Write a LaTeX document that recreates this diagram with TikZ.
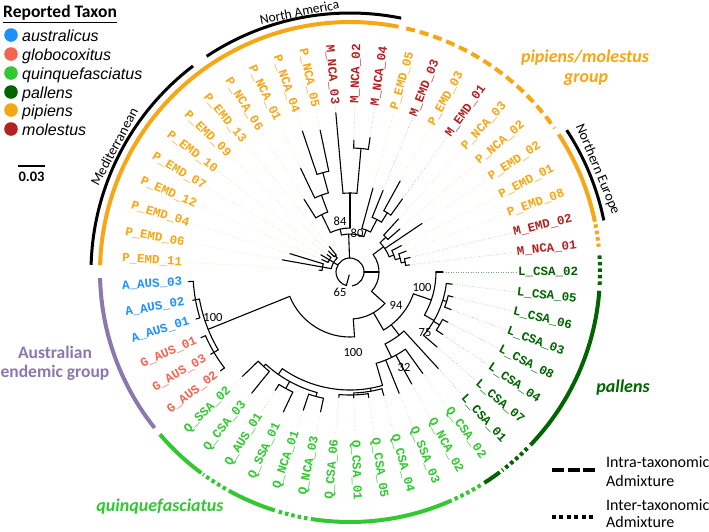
\documentclass[tikz,border=0pt]{standalone}
\usepackage{fontspec}
\setmainfont{Carlito}
\newfontfamily\monob{Liberation Mono}
\newfontfamily\arialf{Liberation Sans}
\definecolor{corange}{RGB}{247,166,20}
\definecolor{cmol}{RGB}{178,34,34}
\definecolor{caus}{RGB}{30,144,255}
\definecolor{cglo}{RGB}{245,100,80}
\definecolor{cqui}{RGB}{50,200,50}
\definecolor{cpal}{RGB}{0,100,0}
\definecolor{cpur}{RGB}{140,120,170}
\tikzset{
 tree/.style={line width=1.1pt, black, line cap=round},
 leader/.style={line width=0.5pt, dotted},
 lab/.style={font=\monob\bfseries\fontsize{12.5}{13}\selectfont, inner sep=0pt},
 ring/.style={line width=4pt},
 ringdash/.style={line width=4pt, dash pattern=on 9pt off 5pt},
 ringdot/.style={line width=4pt, dash pattern=on 3.5pt off 3pt},
 blk/.style={line width=3pt, black},
 supp/.style={font=\fontsize{12.5}{13}\selectfont, inner sep=0pt},
 grp/.style={font=\bfseries\itshape\fontsize{18}{20}\selectfont, inner sep=0pt},
 regl/.style={font=\fontsize{14}{15}\selectfont, inner sep=0pt},
 legt/.style={font=\arialf\itshape\fontsize{16}{18}\selectfont, anchor=base west, inner sep=0pt},
 legr/.style={font=\fontsize{16}{18}\selectfont, anchor=west, inner sep=0pt},
}
\newcommand{\trad}[3]{\draw[tree] (#1:#2) -- (#1:#3);}
\newcommand{\tarc}[3]{\draw[tree] (#2:#1) arc[start angle=#2,end angle=#3,radius=#1];}
\newcommand{\ringarc}[4]{\draw[#1] (#2:#4) arc[start angle=#2,end angle=#3,radius=#4];}
\newcommand{\tip}[5]{%
  \pgfmathsetmacro\ta{(26-#1)*360/53}%
  \draw[tree] (\ta:#2) -- (\ta:#3);%
  \draw[leader,draw=#4!55] (\ta:#3) -- (\ta:166);%
  \ifnum#1<13
    \node[lab,text=#4,anchor=east,rotate=\ta+180] (n#1) at (\ta:168) {#5};%
  \else\ifnum#1>39
    \node[lab,text=#4,anchor=east,rotate=\ta+180] (n#1) at (\ta:168) {#5};%
  \else
    \node[lab,text=#4,anchor=west,rotate=\ta] (n#1) at (\ta:168) {#5};%
  \fi\fi}
\begin{document}
\begin{tikzpicture}[x=1pt,y=1pt]
\useasboundingbox (0,0) rectangle (709,-531);
\fill[white] (0,0) rectangle (709,-531);

% ---------- legend top-left ----------
\node[font=\bfseries\fontsize{17.5}{20}\selectfont, anchor=west, inner sep=0pt] (rt) at (3,-14) {\underline{Reported Taxon}};
\foreach \yy/\cc/\tt [count=\k] in {35/caus/australicus, 54/cglo/globocoxitus, 73/cqui/quinquefasciatus, 92/cpal/pallens, 110/corange/pipiens, 129/cmol/molestus}{
  \fill[\cc] (11,-\yy) circle (6.8);
  \node[legt] (lg\k) at (22,-\yy-6) {\tt};
}
% scale bar
\draw[line width=1.5pt] (18,-166) -- (45,-166);
\node[font=\bfseries\fontsize{14.5}{15}\selectfont, inner sep=0pt] (sc) at (31.5,-177) {0.03};

% ---------- group labels ----------
\node[grp,text=corange] (g1a) at (585,-58) {pipiens/molestus};
\node[grp,text=corange] (g1b) at (586,-80) {group};
\node[font=\bfseries\fontsize{17.5}{20}\selectfont, text=cpur, inner sep=0pt] (g2a) at (55,-352) {Australian};
\node[font=\bfseries\fontsize{17.5}{20}\selectfont, text=cpur, inner sep=0pt] (g2b) at (55,-373) {endemic group};
\node[grp,text=cqui] (g3) at (160,-507) {quinquefasciatus};
\node[grp,text=cpal] (g4) at (623,-388) {pallens};

% ---------- legend bottom-right ----------
\draw[line width=4pt, dash pattern=on 12pt off 3.5pt] (552,-470) -- (595,-470);
\draw[line width=4pt, dash pattern=on 4pt off 3.4pt] (552,-517) -- (595,-517);
\node[legr] (l1) at (606,-462) {Intra-taxonomic};
\node[legr] (l2) at (606,-481) {Admixture};
\node[legr] (l3) at (606,-505) {Inter-taxonomic};
\node[legr] (l4) at (606,-522) {Admixture};

\begin{scope}[shift={(350,-272)}]
% ---------- outer rings ----------
\ringarc{ring,corange}{178.4}{78.8}{250}
\ringarc{ringdash,corange}{77}{35.1}{250}
\ringarc{ring,corange}{33.4}{11.6}{250}
\ringarc{ringdot,corange}{11.0}{5.8}{250}
\ringarc{ringdot,cpal}{3.8}{-3.0}{250}
\ringarc{ring,cpal}{-4.3}{-43.8}{250}
\ringarc{ringdot,cpal}{-44.8}{-52.5}{250}
\ringarc{ring,cpal}{-53.2}{-57.5}{250}
\ringarc{ringdot,cqui}{-58.5}{-65.5}{250}
\ringarc{ring,cqui}{-66}{-99}{250}
\ringarc{ringdot,cqui}{-99.8}{-106.8}{250}
\ringarc{ring,cqui}{-107.5}{-119}{250}
\ringarc{ringdot,cqui}{-119.8}{-126}{250}
\ringarc{ring,cqui}{-126.5}{-139.5}{250}
\ringarc{ring,cpur}{-141.4}{-178.6}{250}
% black region arcs
\ringarc{blk}{178.4}{127.3}{259}
\ringarc{blk}{123.6}{78.6}{259}
\ringarc{blk}{33.2}{11.5}{259}
\node[regl,rotate=62] (med) at (152:267) {Mediterranean};
\node[regl,rotate=11,font=\fontsize{13.5}{14}\selectfont] (nam) at (101:265) {North America};
\node[regl,rotate=-67.5] (neu) at (22.5:268) {Northern Europe};

% ---------- tree backbone ----------
\draw[tree] (-80:14) arc[start angle=-80,end angle=255,radius=14];
\trad{255}{3}{14}
% left pipiens cluster
\trad{150}{14}{19} \tarc{19}{169.81}{132.45}
\trad{169.81}{19}{28} \tarc{28}{176.60}{163.02}
\trad{149.43}{19}{24} \tarc{24}{156.22}{142.64}
\trad{132.45}{19}{22} \tarc{22}{135.85}{129.06}
% top cluster
\trad{92}{14}{38} \tarc{38}{103}{68.78}
\trad{103}{38}{44} \tarc{44}{116.32}{90}
\trad{116.32}{44}{64} \tarc{64}{122.27}{110.38}
\trad{110.38}{64}{82} \tarc{82}{115.47}{105.29}
\trad{105.29}{82}{103} \tarc{103}{108.68}{101.89}
\trad{90}{44}{79} \tarc{79}{95.10}{84.91}
\trad{84.91}{79}{124} \tarc{124}{88.30}{81.51}
\trad{68.78}{38}{45} \tarc{45}{74.72}{62.84}
\trad{62.84}{45}{59} \tarc{59}{67.93}{57.74}
\trad{57.74}{59}{70} \tarc{70}{61.13}{54.34}
% right cluster
\trad{0}{14}{29} \tarc{29}{37}{-42}
\trad{37}{29}{42} \tarc{42}{44.16}{21.23}
\trad{44.16}{42}{50} \tarc{50}{47.55}{40.76}
\trad{21.23}{42}{47} \tarc{47}{27.17}{15.28}
\trad{15.28}{47}{52} \tarc{52}{20.38}{10.19}
\trad{10.19}{52}{56} \tarc{56}{13.59}{6.79}
% backbone to Australian clade
\trad{-42}{29}{47} \tarc{47}{-42}{-86}
\trad{-86}{47}{65} \tarc{65}{-86}{-158}
\trad{-158}{65}{153} \tarc{153}{-149.43}{-169.81}
\trad{-169.81}{153}{157} \tarc{157}{-163.02}{-176.60}
\trad{-149.43}{153}{158} \tarc{158}{-142.64}{-156.22}
% pallens + quinquefasciatus
\trad{-60}{47}{67} \tarc{67}{-19}{-60}
\trad{-19}{67}{86} \tarc{86}{0}{-30}
\trad{-30}{86}{97} \tarc{97}{-6.79}{-40.76}
\trad{-16.98}{97}{101} \tarc{101}{-13.59}{-20.38}
\trad{-30.57}{97}{104} \tarc{104}{-27.17}{-33.96}
\trad{-52}{67}{80} \tarc{80}{-47.55}{-64}
\trad{-64}{80}{95} \tarc{95}{-54.34}{-74}
\trad{-74}{95}{118} \tarc{118}{-74}{-125}
\trad{-80}{118}{121} \tarc{121}{-74.72}{-88.2}
\trad{-88.2}{121}{123} \tarc{123}{-81.51}{-95.10}
\trad{-125}{118}{125} \tarc{125}{-105.29}{-132.46}
\trad{-105.29}{125}{129} \tarc{129}{-101.89}{-108.68}
\trad{-118.87}{125}{133} \tarc{133}{-115.47}{-122.27}
\trad{-132.46}{125}{128} \tarc{128}{-129.06}{-135.85}

% ---------- tips ----------
\tip{0}{28}{31}{corange}{P\_EMD\_11}
\tip{1}{28}{69}{corange}{P\_EMD\_06}
\tip{2}{28}{63}{corange}{P\_EMD\_04}
\tip{3}{24}{31}{corange}{P\_EMD\_12}
\tip{4}{24}{34}{corange}{P\_EMD\_07}
\tip{5}{24}{29}{corange}{P\_EMD\_10}
\tip{6}{22}{30}{corange}{P\_EMD\_09}
\tip{7}{22}{33}{corange}{P\_EMD\_13}
\tip{8}{64}{86}{corange}{P\_NCA\_06}
\tip{9}{82}{115}{corange}{P\_NCA\_01}
\tip{10}{103}{149}{corange}{P\_NCA\_04}
\tip{11}{103}{145}{corange}{P\_NCA\_05}
\tip{12}{79}{160}{cmol}{M\_NCA\_03}
\tip{13}{124}{132}{cmol}{M\_NCA\_02}
\tip{14}{124}{136}{cmol}{M\_NCA\_04}
\tip{15}{45}{87}{corange}{P\_EMD\_05}
\tip{16}{59}{88}{cmol}{M\_EMD\_03}
\tip{17}{70}{104}{corange}{P\_EMD\_03}
\tip{18}{70}{90}{cmol}{M\_EMD\_01}
\tip{19}{50}{72}{corange}{P\_NCA\_03}
\tip{20}{50}{66}{corange}{P\_NCA\_02}
\tip{21}{42}{87}{corange}{P\_EMD\_02}
\tip{22}{47}{58}{corange}{P\_EMD\_01}
\tip{23}{52}{60}{corange}{P\_EMD\_08}
\tip{24}{56}{62}{cmol}{M\_EMD\_02}
\tip{25}{56}{60}{cmol}{M\_NCA\_01}
\tip{26}{86}{93}{cpal}{L\_CSA\_02}
\tip{27}{97}{103}{cpal}{L\_CSA\_05}
\tip{28}{101}{106}{cpal}{L\_CSA\_06}
\tip{29}{101}{108}{cpal}{L\_CSA\_03}
\tip{30}{104}{110}{cpal}{L\_CSA\_08}
\tip{31}{104}{112}{cpal}{L\_CSA\_04}
\tip{32}{97}{115}{cpal}{L\_CSA\_07}
\tip{33}{80}{131}{cpal}{L\_CSA\_01}
\tip{34}{95}{125}{cqui}{Q\_CSA\_02}
\tip{35}{95}{128}{cqui}{Q\_NCA\_02}
\tip{36}{95}{131}{cqui}{Q\_SSA\_03}
\tip{37}{121}{128}{cqui}{Q\_CSA\_04}
\tip{38}{123}{127}{cqui}{Q\_CSA\_05}
\tip{39}{123}{126}{cqui}{Q\_CSA\_01}
\tip{40}{123}{126}{cqui}{Q\_CSA\_06}
\tip{41}{129}{143}{cqui}{Q\_NCA\_03}
\tip{42}{129}{146}{cqui}{Q\_NCA\_01}
\tip{43}{133}{155}{cqui}{Q\_SSA\_01}
\tip{44}{133}{140}{cqui}{Q\_AUS\_01}
\tip{45}{128}{156}{cqui}{Q\_CSA\_03}
\tip{46}{128}{150}{cqui}{Q\_SSA\_02}
\tip{47}{158}{163}{cglo}{G\_AUS\_02}
\tip{48}{158}{162}{cglo}{G\_AUS\_03}
\tip{49}{158}{163}{cglo}{G\_AUS\_01}
\tip{50}{157}{161}{caus}{A\_AUS\_01}
\tip{51}{157}{160}{caus}{A\_AUS\_02}
\tip{52}{157}{162}{caus}{A\_AUS\_03}
\end{scope}

% ---------- support values ----------
\node[supp] (s1) at (213,-317) {100};
\node[supp] (s2) at (340,-292) {65};
\node[supp] (s3) at (340,-221) {84};
\node[supp] (s4) at (357,-233) {80};
\node[supp] (s5) at (396,-305) {94};
\node[supp] (s6) at (353,-352) {100};
\node[supp] (s7) at (422,-287) {100};
\node[supp] (s8) at (425,-333) {75};
\node[supp] (s9) at (404,-367) {32};
\end{tikzpicture}
\end{document}
